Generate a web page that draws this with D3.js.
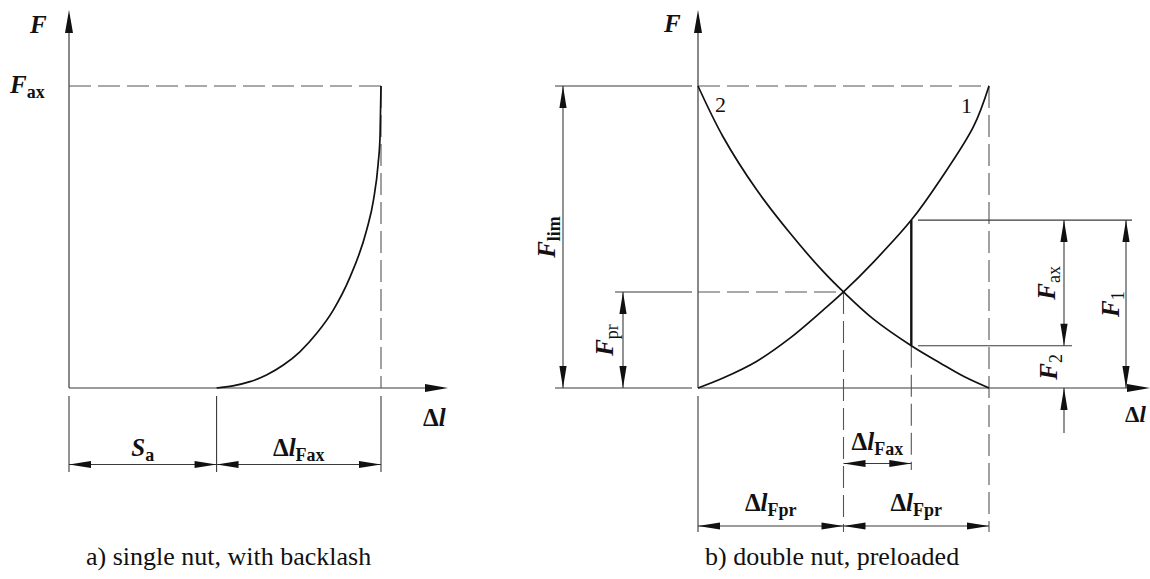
<!DOCTYPE html>
<html>
<head>
<meta charset="utf-8">
<script src="https://cdn.jsdelivr.net/npm/d3@7"></script>
<style>
  html, body { margin: 0; padding: 0; background: #fff; }
  svg { display: block; }
</style>
</head>
<body>
<svg id="chart" width="1150" height="579"
     font-family="'Liberation Serif', Tinos, 'Nimbus Roman', 'DejaVu Serif', serif"></svg>
<script>
// --- Data (relative deflection Δl, relative force F; 1 = full scale) ---

// a) single nut: backlash S_a, then load curve up to F_ax
const backlashSa = 0.473;
const singleNutCurve = [
  [0.473, 0], [0.525, 0.007], [0.580, 0.021], [0.633, 0.043], [0.687, 0.076],
  [0.740, 0.120], [0.794, 0.181], [0.847, 0.258], [0.901, 0.368], [0.954, 0.523],
  [0.976, 0.623], [0.991, 0.744], [0.997, 0.834], [1, 1]
];

// b) double nut: nut 1 (loaded) and nut 2 (relieved)
const nut1Curve = [
  [0, 0], [0.086, 0.033], [0.201, 0.088], [0.316, 0.165], [0.430, 0.258],
  [0.500, 0.318], [0.603, 0.417], [0.733, 0.556], [0.832, 0.689], [0.947, 0.866], [1, 1]
];
const nut2Curve = [
  [0, 1], [0.086, 0.832], [0.201, 0.657], [0.316, 0.513], [0.430, 0.386],
  [0.500, 0.318], [0.603, 0.228], [0.733, 0.140], [0.832, 0.083], [0.914, 0.038], [1, 0]
];
const preloadPoint = [0.5, 0.318];          // [Δl_Fpr, F_pr]
const loadPoint = [0.733, 0.556, 0.140];    // [Δl at F_ax, F_1, F_2]

// --- Setup ---
const svg = d3.select("#chart");
const ink = "#111";
const thin = "#3a3a3a";
const dashCol = "#555";

const xA = d3.scaleLinear().domain([0, 1]).range([69, 381]);
const yA = d3.scaleLinear().domain([0, 1]).range([388, 86]);
const xB = d3.scaleLinear().domain([0, 1]).range([698, 989]);
const yB = d3.scaleLinear().domain([0, 1]).range([388, 86]);

// small drawing helpers
function seg(x1, y1, x2, y2, opt = {}) {
  const l = svg.append("line")
    .attr("x1", x1).attr("y1", y1).attr("x2", x2).attr("y2", y2)
    .attr("stroke", opt.color || thin)
    .attr("stroke-width", opt.w || 1.1);
  if (opt.dash) l.attr("stroke-dasharray", "22,7").attr("stroke", opt.color || dashCol);
  return l;
}

function head(x, y, dir, len = 22, hw = 3.6) {
  const v = { up: [0, -1], down: [0, 1], left: [-1, 0], right: [1, 0] }[dir];
  const bx = x - v[0] * len, by = y - v[1] * len;
  const px = -v[1] * hw, py = v[0] * hw;
  svg.append("path")
    .attr("d", `M${x},${y}L${bx + px},${by + py}L${bx - px},${by - py}Z`)
    .attr("fill", ink);
}

function dimH(y, x1, x2) {
  seg(x1, y, x2, y);
  head(x1, y, "left");
  head(x2, y, "right");
}

function dimV(x, y1, y2) {
  seg(x, y1, x, y2);
  head(x, y1, "up");
  head(x, y2, "down");
}

// parts: {t, it, b, sub}
function label(parent, x, y, parts, anchor = "start") {
  const t = parent.append("text")
    .attr("x", x).attr("y", y)
    .attr("fill", ink)
    .attr("text-anchor", anchor);
  parts.forEach(p => {
    const s = t.append("tspan").text(p.t)
      .attr("font-size", p.size || (p.sub ? 18 : 25))
      .attr("font-style", p.it ? "italic" : "normal")
      .attr("font-weight", p.b ? "bold" : "normal");
    if (p.sub) s.attr("dy", 5);
  });
  return t;
}

function vlabel(x, y, parts) {
  const g = svg.append("g").attr("transform", `translate(${x},${y}) rotate(-90)`);
  label(g, 0, 0, parts, "middle");
}

const F = { t: "F", it: true, b: true };
const dl = [{ t: "Δ", b: true }, { t: "l", it: true, b: true }];

const curveLine = (xs, ys, c) => d3.line()
  .x(d => xs(d[0]))
  .y(d => ys(d[1]))
  .curve(c);

// -----------------------------
// a) single nut, with backlash
// -----------------------------
seg(xA(0), yA(0), xA(0), 20, { w: 1.2 });
head(xA(0), 10, "up", 23, 4);
seg(xA(0), yA(0), 430, yA(0), { w: 1.2 });
head(448, yA(0), "right", 23, 4);

seg(xA(0), yA(1), xA(1), yA(1), { dash: true });
seg(xA(1), yA(1), xA(1), yA(0), { dash: true });

// extension lines + dimensions
[0, backlashSa, 1].forEach(v => seg(xA(v), 396, xA(v), 472));
dimH(464.5, xA(0), xA(backlashSa));
dimH(464.5, xA(backlashSa), xA(1));

svg.append("path")
  .datum(singleNutCurve)
  .attr("d", curveLine(xA, yA, d3.curveMonotoneX))
  .attr("fill", "none")
  .attr("stroke", ink)
  .attr("stroke-width", 1.7);

label(svg, 30, 33, [F]);
label(svg, 10, 93, [F, { t: "ax", b: true, sub: true }]);
label(svg, 423, 426, dl);
label(svg, (xA(0) + xA(backlashSa)) / 2, 456,
  [{ t: "S", it: true, b: true }, { t: "a", b: true, sub: true }], "middle");
label(svg, (xA(backlashSa) + xA(1)) / 2, 456,
  [...dl, { t: "Fax", b: true, sub: true }], "middle");
label(svg, 86, 565, [{ t: "a) single nut, with backlash", size: 26 }]);

// -----------------------------
// b) double nut, preloaded
// -----------------------------
const [dPr, fPr] = preloadPoint;
const [dAx, f1, f2] = loadPoint;

// axes
seg(xB(0), yB(0), xB(0), 20, { w: 1.2 });
head(xB(0), 10, "up", 23, 4);
seg(xB(0), yB(0), 1135, yB(0), { w: 1.2 });
head(1150, yB(0), "right", 23, 4);
seg(555, yB(0), xB(0) - 6, yB(0));

// top limit line
seg(555, yB(1), xB(0) - 6, yB(1));
seg(xB(0), yB(1), xB(1), yB(1), { dash: true });
seg(xB(1), yB(1), xB(1), 532, { dash: true });

// preload level
seg(615, yB(fPr), xB(0) - 6, yB(fPr));
seg(xB(0), yB(fPr), xB(dPr), yB(fPr), { dash: true });
seg(xB(dPr), yB(fPr), xB(dPr), 532, { dash: true });
seg(xB(0), 396, xB(0), 532);

// external load
seg(xB(dAx), yB(f2), xB(dAx), 470, { dash: true });
seg(918, yB(f1), 1132, yB(f1));
seg(918, yB(f2), 1072, yB(f2));

// curves
[nut1Curve, nut2Curve].forEach(c => {
  svg.append("path")
    .datum(c)
    .attr("d", curveLine(xB, yB, d3.curveCatmullRom.alpha(0.5)))
    .attr("fill", "none")
    .attr("stroke", ink)
    .attr("stroke-width", 1.7);
});
seg(xB(dAx), yB(f1), xB(dAx), yB(f2), { color: ink, w: 2.4 });

// force dimensions
dimV(563, yB(1), yB(0));
dimV(623, yB(fPr), yB(0));
dimV(1064, yB(f1), yB(f2));
seg(1064, yB(0), 1064, 433);
head(1064, yB(0), "up");
dimV(1126, yB(f1), yB(0));

// deflection dimensions
dimH(463.5, xB(dPr), xB(dAx));
dimH(526, xB(0), xB(dPr));
dimH(526, xB(dPr), xB(1));

// labels
label(svg, 664, 32, [F]);
label(svg, 715, 112, [{ t: "2", size: 22 }]);
label(svg, 961, 113, [{ t: "1", size: 22 }]);
label(svg, 1125, 422, [{ t: "Δ", b: true, size: 23 }, { t: "l", it: true, b: true, size: 23 }]);

vlabel(555, (yB(1) + yB(0)) / 2, [F, { t: "lim", b: true, sub: true }]);
vlabel(613, (yB(fPr) + yB(0)) / 2, [F, { t: "pr", sub: true }]);
vlabel(1055, (yB(f1) + yB(f2)) / 2, [F, { t: "ax", sub: true }]);
vlabel(1057, (yB(f2) + yB(0)) / 2, [F, { t: "2", sub: true }]);
vlabel(1119, (yB(f1) + yB(0)) / 2, [F, { t: "1", sub: true }]);

label(svg, (xB(dPr) + xB(dAx)) / 2, 450,
  [...dl, { t: "Fax", b: true, sub: true }], "middle");
label(svg, (xB(0) + xB(dPr)) / 2, 511,
  [...dl, { t: "Fpr", b: true, sub: true }], "middle");
label(svg, (xB(dPr) + xB(1)) / 2, 511,
  [...dl, { t: "Fpr", b: true, sub: true }], "middle");
label(svg, 705, 565, [{ t: "b) double nut, preloaded", size: 26 }]);
</script>
</body>
</html>
